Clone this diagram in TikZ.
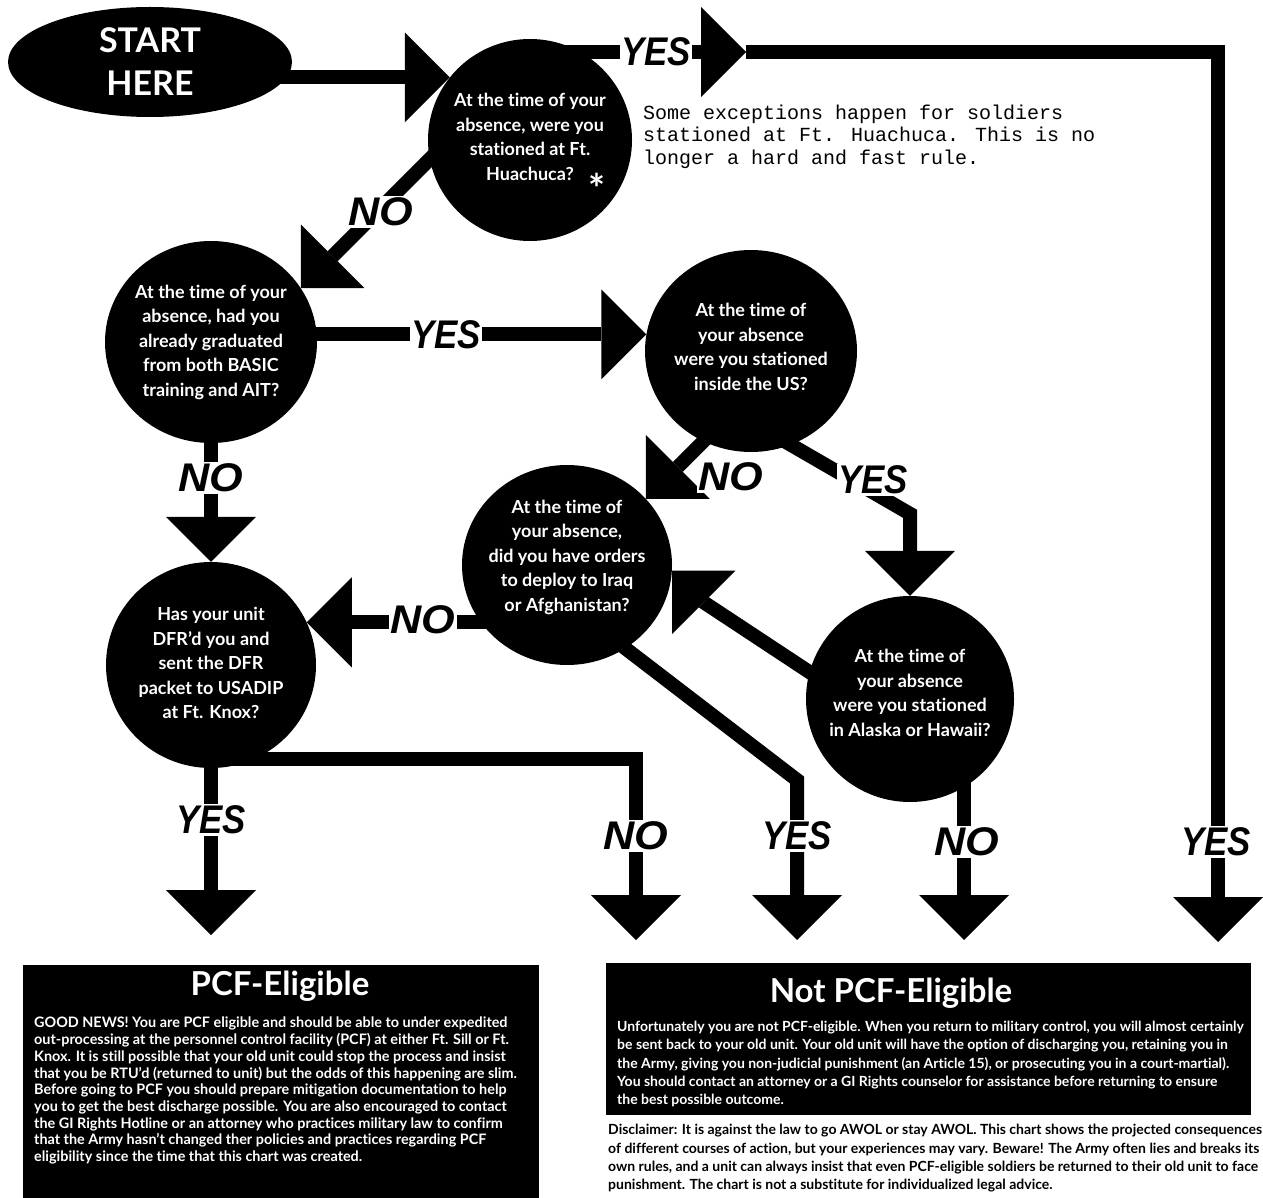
\documentclass[tikz,border=0pt]{standalone}
\usepackage{fontspec}
\usepackage{graphicx}
\setmainfont{Lato}[Ligatures={TeX,NoCommon}]
\newfontfamily\labfont{Liberation Sans}
\newfontfamily\notefont{Liberation Mono}
\usetikzlibrary{shapes.geometric,arrows.meta,calc}
\pgfdeclarelayer{bg}
\pgfsetlayers{bg,main}
\newcommand{\lyes}{\scalebox{0.87}[1]{YES}}
\newcommand{\lno}{\scalebox{1.08}[1]{NO}}
\begin{document}
\begin{tikzpicture}[x=1pt,y=1pt,
  qnode/.style={ellipse,fill=black,inner sep=0pt},
  qtext/.style={text=white,align=center,inner sep=0pt,font=\bfseries\fontsize{18}{24.5}\selectfont},
  conn/.style={line width=14pt,black,line join=miter},
  tipd/.style={-{Triangle[length=45pt,width=90pt,line width=0pt]}},
  ylab/.style={fill=white,inner sep=1.5pt,font=\labfont\bfseries\itshape\fontsize{40}{40}\selectfont},
  boxtext/.style={anchor=north west,align=left,inner sep=0pt},
]
\useasboundingbox (0,0) rectangle (1263,-1198);

% decision nodes
\node[qnode,minimum width=284pt,minimum height=110pt] (start) at (150,-62) {};
\node[qnode,minimum width=204pt,minimum height=202pt] (q1) at (530,-140) {};
\node[qnode,minimum width=212pt,minimum height=202pt] (q2) at (211,-342) {};
\node[qnode,minimum width=212pt,minimum height=202pt] (q3) at (751,-351) {};
\node[qnode,minimum width=210pt,minimum height=200pt] (q4) at (567,-565) {};
\node[qnode,minimum width=208pt,minimum height=206pt] (q5) at (910,-699) {};
\node[qnode,minimum width=210pt,minimum height=206pt] (q6) at (211,-665) {};

\node[text=white,align=center,inner sep=0pt,font=\bfseries\fontsize{34}{43}\selectfont] (startt) at (start.center) {START\\HERE};
\node[qtext] (q1t) at ($(q1.center)+(0,3)$) {At the time of your\\absence, were you\\stationed at Ft.\\Huachuca?};
\node[text=white,inner sep=0pt,font=\bfseries\fontsize{40}{40}\selectfont] (ast) at (597,-188) {*};
\node[qtext] (q2t) at (q2.center) {At the time of your\\absence, had you\\already graduated\\from both BASIC\\training and AIT?};
\node[qtext] (q3t) at ($(q3.center)+(0,4)$) {At the time of\\your absence\\were you stationed\\inside the US?};
\node[qtext] (q4t) at ($(q4.center)+(0,8)$) {At the time of\\your absence,\\did you have orders\\to deploy to Iraq\\or Afghanistan?};
\node[qtext] (q5t) at ($(q5.center)+(0,6)$) {At the time of\\your absence\\were you stationed\\in Alaska or Hawaii?};
\node[qtext] (q6t) at ($(q6.center)+(0,2)$) {Has your unit\\DFR'd you and\\sent the DFR\\packet to USADIP\\at Ft. Knox?};

% free ends and bends
\coordinate (ya) at (746,-52);
\coordinate (yb) at (1218,-52);
\coordinate (yc) at (1218,-942);
\coordinate (b3) at ($(q5.north)+(0,82)$);
\coordinate (b4) at (797,-780);
\coordinate (e4) at (797,-940);
\coordinate (b5) at ($(q4.-3)+(32,-32)$);
\coordinate (e5) at (964,-940);
\coordinate (e6) at (211,-935);
\coordinate (b6) at (636,-759);
\coordinate (e6n) at (636,-940);

\begin{pgfonlayer}{bg}
\fill[white] (0,0) rectangle (1263,-1198);
\draw[conn,tipd] (start.center |- q1.142) -- (q1.142);
\draw[conn,tipd] (q1.center |- ya) -- (ya);
\draw[conn,tipd] (ya) -- (yb) -- (yc);
\draw[conn,tipd] ($(q2.31)+(150,150)$) -- (q2.31);
\draw[conn,tipd] (q2.center |- q3.171) -- (q3.171);
\draw[conn,tipd] (q2.center) -- (q6.north);
\draw[conn,tipd] ($(q4.40)+(72,72)$) -- (q4.40);
\draw[conn,tipd,shorten <=-10pt] (q3.-67) -- (b3) -- (q5.north);
\draw[conn,tipd] (q4.center |- q6.24) -- (q6.24);
\draw[conn,tipd,shorten <=-10pt] (q4.-55) -- (b4) -- (e4);
\draw[conn,tipd,shorten <=-10pt] (q5.165) -- (b5) -- (q4.-3);
\draw[conn,tipd] (e5 |- q5.center) -- (e5);
\draw[conn,tipd] (q6.center) -- (e6);
\draw[conn,tipd] (q6.center |- b6) -- (b6) -- (e6n);
\end{pgfonlayer}

% labels
\node[ylab] (l1) at (656,-52) {\lyes};
\node[ylab] (l2) at (381,-212) {\lno};
\node[ylab] (l3) at (446,-335) {\lyes};
\node[ylab] (l4) at (211,-478) {\lno};
\node[ylab] (l5) at (731,-477) {\lno};
\node[ylab] (l6) at (873,-480) {\lyes};
\node[ylab] (l7) at (423,-620) {\lno};
\node[ylab] (l8) at (211,-820) {\lyes};
\node[ylab] (l9) at (636,-836) {\lno};
\node[ylab] (l10) at (797,-836) {\lyes};
\node[ylab] (l11) at (967,-842) {\lno};
\node[ylab] (l12) at (1216,-842) {\lyes};

% note
\node[boxtext,font=\notefont\fontsize{20}{22.3}\selectfont] (note) at (643,-105) {Some exceptions happen for soldiers\\stationed at Ft. Huachuca. This is no\\longer a hard and fast rule.};

% outcome boxes
\node[fill=black,inner sep=0pt,minimum width=516pt,minimum height=233pt,anchor=north west] (pcf) at (23,-965) {};
\node[text=white,inner sep=0pt,font=\bfseries\fontsize{33}{33}\selectfont] (pcft) at (280,-986) {PCF-Eligible};
\node[boxtext,text=white,font=\bfseries\fontsize{14.4}{16.7}\selectfont] (pcfb) at (34,-1017) {GOOD NEWS! You are PCF eligible and should be able to under expedited\\out-processing at the personnel control facility (PCF) at either Ft. Sill or Ft.\\Knox. It is still possible that your old unit could stop the process and insist\\that you be RTU'd (returned to unit) but the odds of this happening are slim.\\Before going to PCF you should prepare mitigation documentation to help\\you to get the best discharge possible. You are also encouraged to contact\\the GI Rights Hotline or an attorney who practices military law to confirm\\that the Army hasn't changed ther policies and practices regarding PCF\\eligibility since the time that this chart was created.};

\node[fill=black,inner sep=0pt,minimum width=645pt,minimum height=152pt,anchor=north west] (npcf) at (606,-963) {};
\node[text=white,inner sep=0pt,font=\bfseries\fontsize{33}{33}\selectfont] (npcft) at (891,-993) {Not PCF-Eligible};
\node[boxtext,text=white,font=\bfseries\fontsize{14}{18.2}\selectfont] (npcfb) at (617,-1021) {Unfortunately you are not PCF-eligible. When you return to military control, you will almost certainly\\be sent back to your old unit. Your old unit will have the option of discharging you, retaining you in\\the Army, giving you non-judicial punishment (an Article 15), or prosecuting you in a court-martial).\\You should contact an attorney or a GI Rights counselor for assistance before returning to ensure\\the best possible outcome.};
\node[boxtext,text=black,font=\bfseries\fontsize{14}{18.4}\selectfont] (disc) at (608,-1124) {Disclaimer: It is against the law to go AWOL or stay AWOL. This chart shows the projected consequences\\of different courses of action, but your experiences may vary. Beware! The Army often lies and breaks its\\own rules, and a unit can always insist that even PCF-eligible soldiers be returned to their old unit to face\\punishment. The chart is not a substitute for individualized legal advice.};
\end{tikzpicture}
\end{document}
